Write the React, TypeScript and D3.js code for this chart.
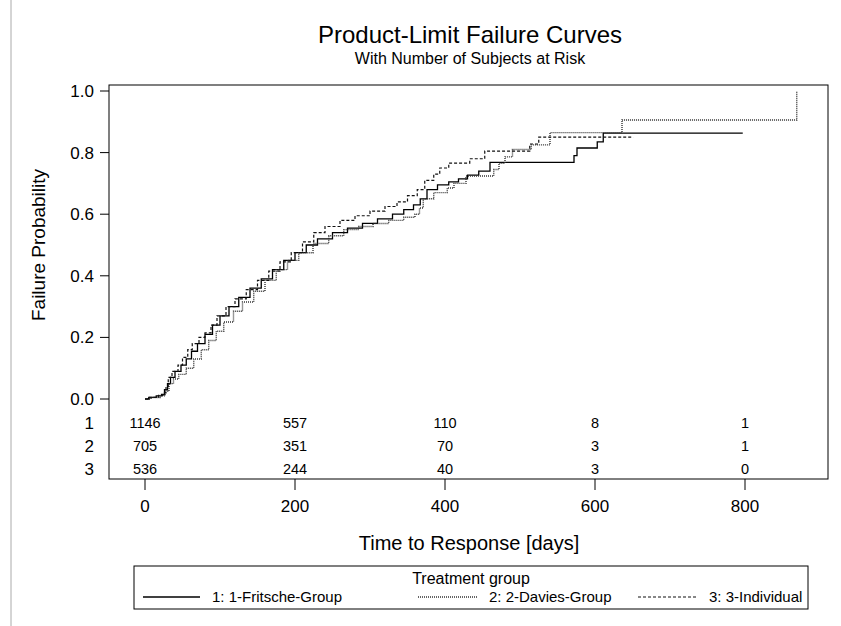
import React from 'react';
import * as d3 from 'd3';

// Product-limit failure estimates (days, failure probability)
const g1Time = [0, 5, 15, 22, 26, 30, 34, 40, 48, 55, 62, 70, 80, 90, 100, 112, 125, 140, 155, 170, 185, 200, 215, 230, 250, 270, 290, 310, 330, 345, 358, 367, 376, 390, 405, 418, 430, 445, 460, 572, 576, 603, 611];
const g1Fail = [0, 0.005, 0.01, 0.015, 0.03, 0.05, 0.07, 0.09, 0.11, 0.13, 0.155, 0.18, 0.21, 0.24, 0.27, 0.3, 0.33, 0.36, 0.39, 0.42, 0.45, 0.475, 0.5, 0.52, 0.54, 0.555, 0.57, 0.585, 0.6, 0.615, 0.63, 0.65, 0.68, 0.695, 0.705, 0.715, 0.727, 0.74, 0.768, 0.79, 0.815, 0.835, 0.863];
const g1End = 797;

const g2Time = [0, 8, 20, 27, 32, 38, 45, 55, 65, 75, 85, 95, 105, 118, 130, 145, 160, 175, 190, 205, 224, 245, 265, 285, 304, 325, 345, 360, 366, 371, 385, 403, 412, 428, 465, 472, 480, 490, 515, 540, 636, 869];
const g2Fail = [0, 0.005, 0.01, 0.025, 0.05, 0.065, 0.08, 0.1, 0.13, 0.16, 0.19, 0.22, 0.25, 0.285, 0.315, 0.35, 0.385, 0.42, 0.45, 0.475, 0.505, 0.53, 0.55, 0.56, 0.57, 0.58, 0.59, 0.6, 0.62, 0.65, 0.67, 0.685, 0.7, 0.724, 0.745, 0.765, 0.786, 0.81, 0.825, 0.865, 0.906, 1.0];
const g2End = 869;

const g3Time = [0, 6, 18, 24, 28, 31, 36, 44, 50, 57, 63, 72, 80, 88, 96, 108, 120, 135, 150, 165, 180, 195, 210, 225, 240, 260, 280, 300, 320, 336, 350, 363, 373, 385, 393, 405, 433, 453, 513, 525];
const g3Fail = [0, 0.005, 0.012, 0.02, 0.04, 0.07, 0.09, 0.11, 0.135, 0.16, 0.18, 0.2, 0.215, 0.24, 0.27, 0.3, 0.325, 0.355, 0.385, 0.415, 0.445, 0.475, 0.51, 0.54, 0.56, 0.58, 0.595, 0.61, 0.625, 0.64, 0.66, 0.68, 0.71, 0.73, 0.75, 0.766, 0.78, 0.805, 0.828, 0.85];
const g3End = 651;

// subjects at risk table
const riskTimes = [0, 200, 400, 600, 800];
const risk1 = [1146, 557, 110, 8, 1];
const risk2 = [705, 351, 70, 3, 1];
const risk3 = [536, 244, 40, 3, 0];

const yTicks = [0, 0.2, 0.4, 0.6, 0.8, 1.0];
const xTicks = [0, 200, 400, 600, 800];
const groupLabels = ['1: 1-Fritsche-Group', '2: 2-Davies-Group', '3: 3-Individual'];

const W = 841;
const H = 626;
const box = { left: 109, right: 828, top: 85, bottom: 479 };
const font = '"Liberation Sans", Arial, Helvetica, sans-serif';

export default function App() {
  const x = d3.scaleLinear().domain([0, 800]).range([145, 745]);
  const y = d3.scaleLinear().domain([0, 1]).range([399, 91]);

  const line = d3
    .line<[number, number]>()
    .x((d) => x(d[0]))
    .y((d) => y(d[1]))
    .curve(d3.curveStepAfter);

  const build = (t: number[], f: number[], end: number): [number, number][] => {
    const pts = t.map((v, i) => [v, f[i]] as [number, number]);
    pts.push([end, f[f.length - 1]]);
    return pts;
  };

  const groups = [
    { pts: build(g1Time, g1Fail, g1End), dash: null, color: '#000', w: 1.3 },
    { pts: build(g2Time, g2Fail, g2End), dash: '1,1', color: '#333', w: 1.4 },
    { pts: build(g3Time, g3Fail, g3End), dash: '3,2', color: '#111', w: 1.2 },
  ];

  const risks = [risk1, risk2, risk3];
  const rowY = [423, 446, 469];

  const legendY = 602;
  const legendItems = [
    { x1: 143, x2: 200, tx: 212 },
    { x1: 418, x2: 478, tx: 489 },
    { x1: 638, x2: 698, tx: 709 },
  ];

  return (
    <svg
      width={W}
      height={H}
      style={{ position: 'absolute', left: 0, top: 0, background: '#fff' }}
      fontFamily={font}
    >
      <rect x={0} y={0} width={W} height={H} fill="#fff" />
      <line x1={11} x2={11} y1={0} y2={H} stroke="#aaa" strokeWidth={1} />

      <text x={470} y={43} textAnchor="middle" fontSize={24}>
        Product-Limit Failure Curves
      </text>
      <text x={470} y={64} textAnchor="middle" fontSize={16}>
        With Number of Subjects at Risk
      </text>

      {/* frame */}
      <rect
        x={box.left}
        y={box.top}
        width={box.right - box.left}
        height={box.bottom - box.top}
        fill="none"
        stroke="#000"
        strokeWidth={1}
      />

      {/* y axis */}
      {yTicks.map((t) => (
        <g key={t}>
          <line x1={100} x2={box.left} y1={y(t)} y2={y(t)} stroke="#000" />
          <text x={94} y={y(t) + 6} textAnchor="end" fontSize={17}>
            {t.toFixed(1)}
          </text>
        </g>
      ))}
      <text
        transform={`translate(45, 245) rotate(-90)`}
        textAnchor="middle"
        fontSize={19}
      >
        Failure Probability
      </text>

      {/* x axis */}
      {xTicks.map((t) => (
        <g key={t}>
          <line x1={x(t)} x2={x(t)} y1={box.bottom} y2={box.bottom + 11} stroke="#000" />
          <text x={x(t)} y={512} textAnchor="middle" fontSize={17}>
            {t}
          </text>
        </g>
      ))}
      <text x={469} y={550} textAnchor="middle" fontSize={20}>
        Time to Response [days]
      </text>

      {/* curves */}
      {groups.map((g, i) => (
        <path
          key={i}
          d={line(g.pts) || ''}
          fill="none"
          stroke={g.color}
          strokeWidth={g.w}
          strokeDasharray={g.dash || undefined}
        />
      ))}

      {/* at risk */}
      {risks.map((row, r) => (
        <g key={r}>
          <text x={94} y={rowY[r] + 6} textAnchor="end" fontSize={17}>
            {r + 1}
          </text>
          {row.map((n, i) => (
            <text key={i} x={x(riskTimes[i])} y={rowY[r] + 5} textAnchor="middle" fontSize={14.5}>
              {n}
            </text>
          ))}
        </g>
      ))}

      {/* legend */}
      <rect x={134} y={566} width={674} height={43} fill="none" stroke="#000" />
      <text x={471} y={584} textAnchor="middle" fontSize={16}>
        Treatment group
      </text>
      {legendItems.map((it, i) => (
        <g key={i}>
          <line
            x1={it.x1}
            x2={it.x2}
            y1={legendY - 5}
            y2={legendY - 5}
            stroke={groups[i].color}
            strokeWidth={groups[i].w}
            strokeDasharray={groups[i].dash || undefined}
          />
          <text x={it.tx} y={legendY} fontSize={15}>
            {groupLabels[i]}
          </text>
        </g>
      ))}
    </svg>
  );
}
